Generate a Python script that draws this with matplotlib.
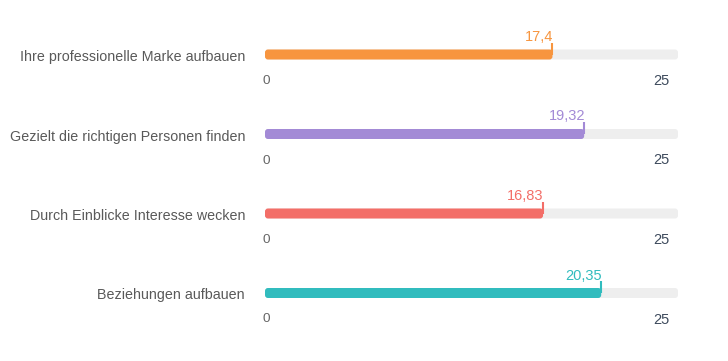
import matplotlib
matplotlib.use("Agg")
import matplotlib.pyplot as plt
from matplotlib.patches import FancyBboxPatch

categories = ["Ihre professionelle Marke aufbauen",
              "Gezielt die richtigen Personen finden",
              "Durch Einblicke Interesse wecken",
              "Beziehungen aufbauen"]
values = [17.4, 19.32, 16.83, 20.35]
value_labels = ["17,4", "19,32", "16,83", "20,35"]
colors = ["#f7953f", "#a38ad6", "#f36e68", "#31bcbe"]
axis_min, axis_max = 0, 25

plt.rcParams['font.family'] = ['Liberation Sans', 'DejaVu Sans']

W, H = 728, 361
fig = plt.figure(figsize=(W / 100, H / 100), dpi=100)
left_px, right_px = 265, 678
ax = fig.add_axes([left_px / W, 0, (right_px - left_px) / W, 1])
ax.set_xlim(axis_min, axis_max)
ax.set_ylim(H, 0)
ax.axis('off')

px_per_unit = (right_px - left_px) / (axis_max - axis_min)
bar_h = 10
row0, row_step = 54.5, 79.5
r = 3
aspect = px_per_unit  # y units are pixels

for i, (cat, v, lab, c) in enumerate(zip(categories, values, value_labels, colors)):
    yc = row0 + i * row_step
    track = FancyBboxPatch((axis_min, yc - bar_h / 2), axis_max - axis_min, bar_h,
                           boxstyle=f"round,pad=0,rounding_size={r / px_per_unit}",
                           mutation_aspect=aspect, fc="#eeeeee", ec="none")
    ax.add_patch(track)
    bar = FancyBboxPatch((axis_min, yc - bar_h / 2), v - axis_min, bar_h,
                         boxstyle=f"round,pad=0,rounding_size={r / px_per_unit}",
                         mutation_aspect=aspect, fc=c, ec="none")
    ax.add_patch(bar)
    ax.plot([v, v], [yc - 12, yc], color=c, lw=1.5, solid_capstyle='butt')
    ax.text(v + 0.05, yc - 13.5, lab, color=c, ha='right', va='baseline', fontsize=10.5)
    ax.text(-20 / px_per_unit, yc + 1, cat, color="#595959", ha='right', va='center_baseline', fontsize=10.3)
    ax.text(axis_min + 0.05, yc + 25, str(axis_min), color="#666666", ha='center', va='center_baseline', fontsize=9.7)
    ax.text(axis_max - 8 / px_per_unit, yc + 25, str(axis_max), color="#3d4a5c", ha='right', va='center_baseline', fontsize=10.5)

fig.savefig("out.png", dpi=100)
